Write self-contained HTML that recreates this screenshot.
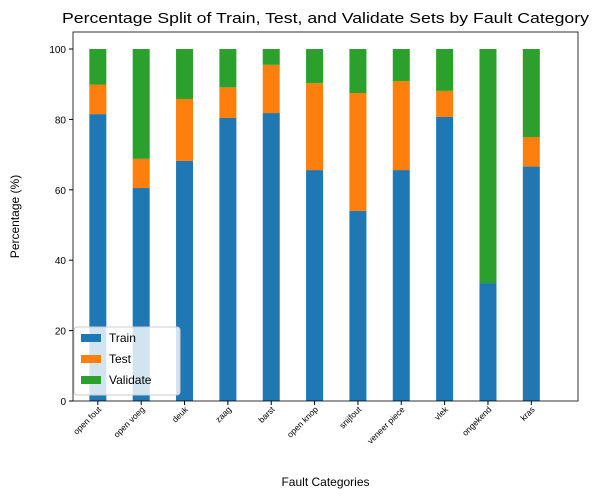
<!DOCTYPE html>
<html><head><meta charset="utf-8"><style>body{margin:0;background:#fff}svg{font-family:"Liberation Sans","DejaVu Sans",sans-serif}</style></head>
<body>
<svg id="chart" width="599" height="499" xmlns="http://www.w3.org/2000/svg"></svg>
<script>
const categories=["open fout","open voeg","deuk","zaag","barst","open knop","snijfout","veneer piece","vlek","ongekend","kras"];
const trainVals=[81.5,60.5,68.2,80.4,81.8,65.6,54,65.6,80.7,33.5,66.6];
const testVals=[8.4,8.3,17.6,8.7,13.7,24.7,33.5,25.3,7.4,0,8.4];
const validateVals=[10.1,31.2,14.2,10.9,4.5,9.7,12.5,9.1,11.9,66.5,25];
const yTicks=[0,20,40,60,80,100];
const L=73,R=578,T=32,B=401;
const NS="http://www.w3.org/2000/svg",svg=document.getElementById('chart');
function el(t,a,p){const e=document.createElementNS(NS,t);for(const k in a)e.setAttribute(k,a[k]);(p||svg).appendChild(e);return e;}
const y=v=>B-v*3.52;
const step=(R-L)/(categories.length+0.65);
const x=i=>L+step*(0.55+i)+1;
const bw=17;
const colors=["#1f77b4","#ff7f0e","#2ca02c"];
const series=[trainVals,testVals,validateVals],snames=["train","test","validate"];
categories.forEach((c,i)=>{let base=0;series.forEach((s,j)=>{const r=el('rect',{x:x(i)-bw/2,y:y(base+s[i]),width:bw,height:s[i]*3.52,fill:colors[j]});

base+=s[i];});
const tk=el('line',{x1:x(i),x2:x(i),y1:B,y2:B+4,stroke:'#000'});


const t=el('text',{x:x(i)+4,y:B+9,'font-size':8.5,'text-anchor':'end',transform:`rotate(-45 ${x(i)+4} ${B+9})`});


t.textContent=c;});
yTicks.forEach(v=>{const l=el('line',{x1:L-4,x2:L,y1:y(v),y2:y(v),stroke:'#000'});


const t=el('text',{x:L-7,y:y(v)+4,'font-size':10,'text-anchor':'end'});


t.textContent=v;});
const fr=el('rect',{x:L,y:T,width:R-L,height:B-T,fill:'none',stroke:'#000','stroke-width':0.8});


const ti=el('text',{x:62,y:23,'font-size':15,textLength:527,lengthAdjust:'spacingAndGlyphs'});


ti.textContent="Percentage Split of Train, Test, and Validate Sets by Fault Category";
const xt=el('text',{x:(L+R)/2,y:486,'font-size':12,'text-anchor':'middle'});


xt.textContent="Fault Categories";
const yt=el('text',{x:19,y:(T+B)/2,'font-size':12,'text-anchor':'middle',transform:`rotate(-90 19 ${(T+B)/2})`});


yt.textContent="Percentage (%)";
const lg=el('g',{});


el('rect',{x:74,y:327,width:106,height:68,fill:'#fff','fill-opacity':0.8,stroke:'#ccc',rx:3},lg);
["Train","Test","Validate"].forEach((n,j)=>{el('rect',{x:81,y:334+j*21,width:20,height:8,fill:colors[j]},lg);
const t=el('text',{x:109,y:342+j*21,'font-size':12},lg);


t.textContent=n;});
</script>
</body></html>
